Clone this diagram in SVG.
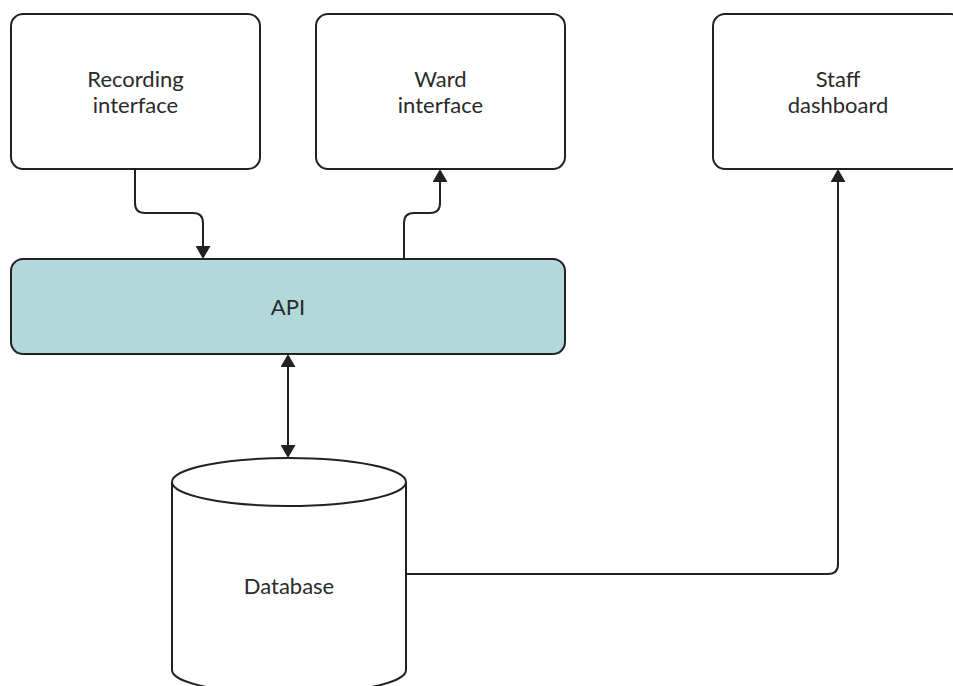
<svg xmlns="http://www.w3.org/2000/svg" width="953" height="686" viewBox="0 0 953 686">
  <style>
    .box { fill: #ffffff; stroke: #222222; stroke-width: 2; }
    .api { fill: #b3d8da; stroke: #222222; stroke-width: 2; }
    .label { font-family: Lato, "Open Sans", "Liberation Sans", sans-serif; font-size: 22px; fill: #2a2a2a; text-anchor: middle; }
    .edge { fill: none; stroke: #222222; stroke-width: 2; }
  </style>
  <defs>
    <!-- filled arrowhead; the path ends at the arrow base -->
    <marker id="arrow" viewBox="0 0 13 15" refX="0" refY="7.5" markerWidth="13" markerHeight="15" markerUnits="userSpaceOnUse" orient="auto-start-reverse">
      <path d="M0,0 L13,7.5 L0,15 Z" fill="#222222"/>
    </marker>
  </defs>

  <rect width="953" height="686" fill="#ffffff"/>

  <g id="recording-interface">
    <rect class="box" x="11" y="14" width="249" height="155" rx="12"/>
    <text class="label" x="135.5" y="87">Recording</text>
    <text class="label" x="135.5" y="113">interface</text>
  </g>

  <g id="ward-interface">
    <rect class="box" x="316" y="14" width="249" height="155" rx="12"/>
    <text class="label" x="440.5" y="87">Ward</text>
    <text class="label" x="440.5" y="113">interface</text>
  </g>

  <g id="staff-dashboard">
    <rect class="box" x="713" y="14" width="250" height="155" rx="12"/>
    <text class="label" x="838" y="87">Staff</text>
    <text class="label" x="838" y="113">dashboard</text>
  </g>

  <g id="api">
    <rect class="api" x="11" y="259" width="554" height="95" rx="12"/>
    <text class="label" x="288" y="315">API</text>
  </g>

  <g id="database">
    <path class="box" d="M172,482 A117,24 0 0 1 406,482 L406,670 A117,24 0 0 1 172,670 Z"/>
    <path class="edge" d="M172,482 A117,24 0 0 0 406,482"/>
    <text class="label" x="289" y="594">Database</text>
  </g>

  <g id="connectors">
    <!-- Recording interface to API -->
    <path class="edge" marker-end="url(#arrow)" d="M135,169 L135,203 Q135,213 145,213 L193,213 Q203,213 203,223 L203,246"/>
    <!-- API to Ward interface -->
    <path class="edge" marker-end="url(#arrow)" d="M404,259 L404,223 Q404,213 414,213 L430,213 Q440,213 440,203 L440,182"/>
    <!-- API to Database, both ways -->
    <path class="edge" marker-start="url(#arrow)" marker-end="url(#arrow)" d="M288,367 L288,445"/>
    <!-- Database to Staff dashboard -->
    <path class="edge" marker-end="url(#arrow)" d="M406,574 L828,574 Q838,574 838,564 L838,182"/>
  </g>
</svg>
